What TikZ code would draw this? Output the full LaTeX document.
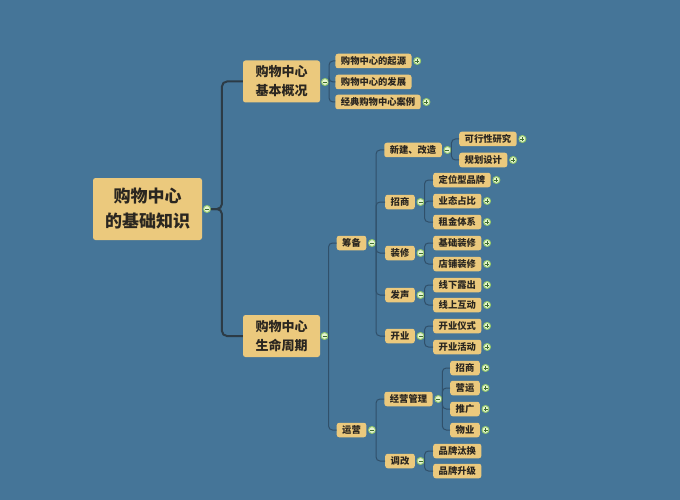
\documentclass[tikz,border=0pt]{standalone}
\usepackage{fontspec}
\setmainfont{Noto Sans CJK SC}
\definecolor{bg}{HTML}{457598}
\definecolor{boxfill}{HTML}{EBC97D}
\definecolor{txt}{HTML}{2A2620}
\definecolor{darkline}{HTML}{2C3B46}
\definecolor{thinline}{HTML}{30506A}
\definecolor{circfill}{HTML}{E4F3D2}
\definecolor{circdraw}{HTML}{94C86A}
\definecolor{circsign}{HTML}{3F6E2E}
\tikzset{
  bx/.style={fill=boxfill, rounded corners=2.5pt, text=txt, inner sep=0pt, align=center, font=\bfseries},
  rootbox/.style={bx, minimum width=109pt, minimum height=62pt, font=\fontsize{17}{25}\selectfont\bfseries},
  lonebox/.style={bx, minimum width=77pt, minimum height=42pt, font=\fontsize{13}{19}\selectfont\bfseries},
  leaf/.style={bx, minimum height=14.5pt, inner xsep=5.5pt, font=\fontsize{9.3}{11}\selectfont\bfseries},
  circ/.style={circle, fill=circfill, draw=circdraw, line width=0.9pt, minimum size=7pt, inner sep=0pt},
  minuscirc/.style={circ, path picture={\draw[circsign, line width=0.8pt] ([xshift=-2pt]path picture bounding box.center) -- ([xshift=2pt]path picture bounding box.center);}},
  pluscirc/.style={circ, path picture={\draw[circsign, line width=0.8pt] ([xshift=-2pt]path picture bounding box.center) -- ([xshift=2pt]path picture bounding box.center) ([yshift=-2pt]path picture bounding box.center) -- ([yshift=2pt]path picture bounding box.center);}},
  rootconn/.style={draw=darkline, line width=2pt, rounded corners=5pt},
  conn/.style={draw=thinline, line width=1pt, rounded corners=4pt},
}
\begin{document}
\begin{tikzpicture}[x=1pt,y=-1pt]
\fill[bg] (0,0) rectangle (680,500);
\useasboundingbox (0,0) rectangle (680,500);

% root
\node[rootbox] (root) at (147.5,209) {购物中心\\的基础知识};
\node[minuscirc] (rootc) at (207,209) {};

% level 1
\node[lonebox] (gk) at (281.5,81.5) {购物中心\\基本概况};
\node[minuscirc] (gkc) at (325,82) {};
\node[lonebox] (zq) at (281.5,336) {购物中心\\生命周期};
\node[minuscirc] (zqc) at (324.5,336) {};

% basic overview children
\node[leaf] (qy) at (373.5,61) {购物中心的起源};
\node[pluscirc] (qyc) at ([xshift=5.5pt]qy.east) {};
\node[leaf] (fz) at (373.5,82) {购物中心的发展};
\node[leaf] (al) at (378,102) {经典购物中心案例};
\node[pluscirc] (alc) at ([xshift=5.5pt]al.east) {};

% lifecycle children
\node[leaf] (cb) at (351.5,243) {筹备};
\node[minuscirc] (cbc) at ([xshift=5.5pt]cb.east) {};
\node[leaf] (yy) at (351.5,430) {运营};
\node[minuscirc] (yyc) at ([xshift=5.5pt]yy.east) {};

% 筹备 children
\node[leaf] (xj) at (413,150) {新建、改造};
\node[minuscirc] (xjc) at ([xshift=5.5pt]xj.east) {};
\node[leaf] (zs) at (400,202) {招商};
\node[minuscirc] (zsc) at ([xshift=5.5pt]zs.east) {};
\node[leaf] (zx) at (400,253) {装修};
\node[minuscirc] (zxc) at ([xshift=5.5pt]zx.east) {};
\node[leaf] (fs) at (400,295) {发声};
\node[minuscirc] (fsc) at ([xshift=5.5pt]fs.east) {};
\node[leaf] (ky) at (400,336) {开业};
\node[minuscirc] (kyc) at ([xshift=5.5pt]ky.east) {};

% 运营 children
\node[leaf] (jy) at (408.5,399) {经营管理};
\node[minuscirc] (jyc) at ([xshift=5.5pt]jy.east) {};
\node[leaf] (tg) at (400,461) {调改};
\node[minuscirc] (tgc) at ([xshift=5.5pt]tg.east) {};

% level 4 leaves (left-aligned)
\node[leaf, anchor=west] (kx) at (459,139) {可行性研究};
\node[pluscirc] (kxc) at ([xshift=5.5pt]kx.east) {};
\node[leaf, anchor=west] (gh) at (459,160) {规划设计};
\node[pluscirc] (ghc) at ([xshift=5.5pt]gh.east) {};

\node[leaf, anchor=west] (dw) at (433,180) {定位型品牌};
\node[pluscirc] (dwc) at ([xshift=5.5pt]dw.east) {};
\node[leaf, anchor=west] (yt) at (433,201) {业态占比};
\node[pluscirc] (ytc) at ([xshift=5.5pt]yt.east) {};
\node[leaf, anchor=west] (zj) at (433,222) {租金体系};
\node[pluscirc] (zjc) at ([xshift=5.5pt]zj.east) {};

\node[leaf, anchor=west] (jc) at (433,243) {基础装修};
\node[pluscirc] (jcc) at ([xshift=5.5pt]jc.east) {};
\node[leaf, anchor=west] (dp) at (433,264) {店铺装修};
\node[pluscirc] (dpc) at ([xshift=5.5pt]dp.east) {};

\node[leaf, anchor=west] (xx) at (433,285) {线下露出};
\node[pluscirc] (xxc) at ([xshift=5.5pt]xx.east) {};
\node[leaf, anchor=west] (xs) at (433,305) {线上互动};
\node[pluscirc] (xsc) at ([xshift=5.5pt]xs.east) {};

\node[leaf, anchor=west] (yi) at (433,326) {开业仪式};
\node[pluscirc] (yic) at ([xshift=5.5pt]yi.east) {};
\node[leaf, anchor=west] (hd) at (433,347) {开业活动};
\node[pluscirc] (hdc) at ([xshift=5.5pt]hd.east) {};

\node[leaf, anchor=west] (m1) at (450,368) {招商};
\node[pluscirc] (m1c) at ([xshift=5.5pt]m1.east) {};
\node[leaf, anchor=west] (m2) at (450,388) {营运};
\node[pluscirc] (m2c) at ([xshift=5.5pt]m2.east) {};
\node[leaf, anchor=west] (m3) at (450,409) {推广};
\node[pluscirc] (m3c) at ([xshift=5.5pt]m3.east) {};
\node[leaf, anchor=west] (m4) at (450,430) {物业};
\node[pluscirc] (m4c) at ([xshift=5.5pt]m4.east) {};

\node[leaf, anchor=west] (pt) at (433,451) {品牌汰换};
\node[leaf, anchor=west] (ps) at (433,471) {品牌升级};

% connectors
\draw[rootconn] (rootc.east) -- ++(11,0) |- (gk.west);
\draw[rootconn] (rootc.east) -- ++(11,0) |- (zq.west);

\foreach \c/\k in {gkc/qy, gkc/fz, gkc/al, zqc/cb, zqc/yy,
  cbc/xj, cbc/zs, cbc/zx, cbc/fs, cbc/ky, yyc/jy, yyc/tg,
  xjc/kx, xjc/gh, zsc/dw, zsc/yt, zsc/zj, zxc/jc, zxc/dp,
  fsc/xx, fsc/xs, kyc/yi, kyc/hd, jyc/m1, jyc/m2, jyc/m3, jyc/m4,
  tgc/pt, tgc/ps}
  \draw[conn] ([xshift=4pt]\c.center) |- (\k.west);
\end{tikzpicture}
\end{document}
